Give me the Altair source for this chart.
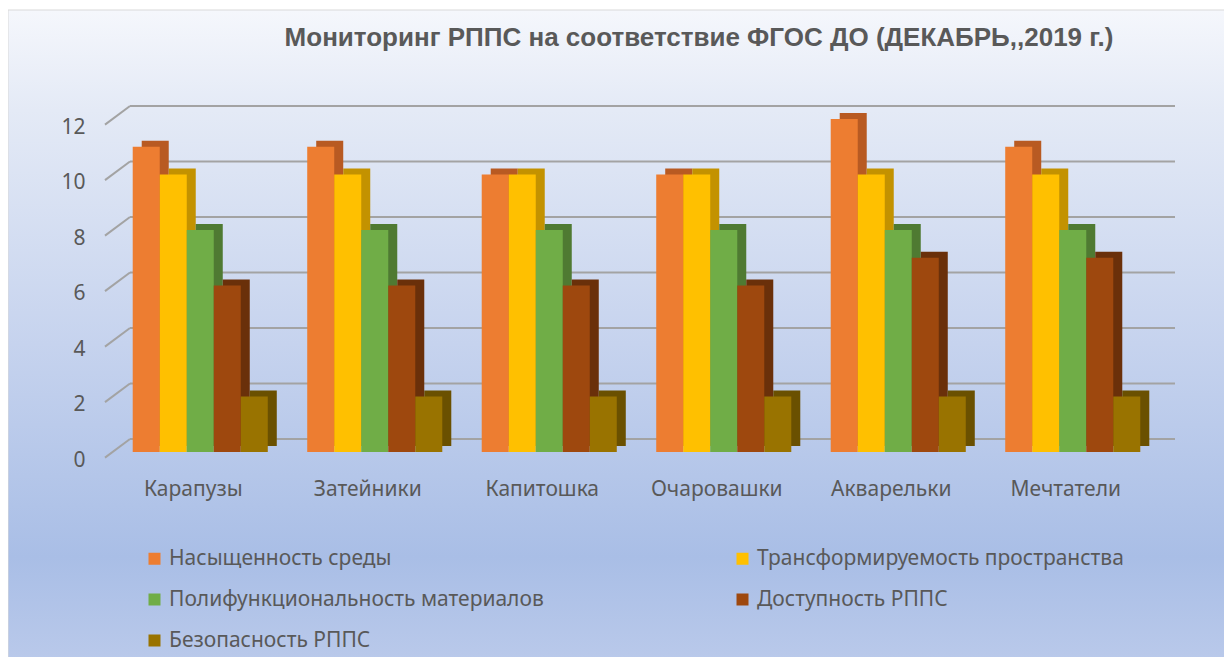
import altair as alt
import pandas as pd

groups = ["Карапузы", "Затейники", "Капитошка", "Очаровашки", "Акварельки", "Мечтатели"]
series = [
    "Насыщенность среды",
    "Трансформируемость пространства",
    "Полифункциональность материалов",
    "Доступность РППС",
    "Безопасность РППС",
]
nasysh = [11, 11, 10, 10, 12, 11]
transf = [10, 10, 10, 10, 10, 10]
polif = [8, 8, 8, 8, 8, 8]
dostup = [6, 6, 6, 6, 7, 7]
bezop = [2, 2, 2, 2, 2, 2]
ticks = [0, 2, 4, 6, 8, 10, 12]
title_text = "Мониторинг РППС на соответствие ФГОС ДО (ДЕКАБРЬ,,2019 г.)"

front_colors = ["#ED7D31", "#FFC000", "#70AD47", "#9E480E", "#997300"]
side_colors = ["#B85A22", "#C39200", "#4F7A32", "#6A300A", "#6A5000"]

rows = []
for s, vals in zip(series, [nasysh, transf, polif, dostup, bezop]):
    for g, v in zip(groups, vals):
        rows.append({"group": g, "series": s, "value": v})
df = pd.DataFrame(rows)
tick_df = pd.DataFrame({"v": ticks})

# legend is filled column by column: order entries so they read row by row
legend_order = [series[0], series[2], series[4], series[1], series[3]]
legend_colors = [front_colors[series.index(s)] for s in legend_order]

W, H = 1047, 333
PL, PT, PR, PB = 105, 111, 64, 205
FONT = "Noto Sans"
TXT = "#595959"

yscale = alt.Scale(domain=[0, 12], nice=False, zero=True)
xscale_front = alt.Scale(domain=groups, paddingInner=0.226, paddingOuter=0.113, range=[0, W])
xscale_side = alt.Scale(domain=groups, paddingInner=0.226, paddingOuter=0.113, range=[9, W + 9])

bg = alt.Chart(alt.Data(values=[{}])).mark_rect(
    fill=alt.Gradient(
        gradient="linear",
        stops=[
            alt.GradientStop(color="#F5F7FC", offset=0.0),
            alt.GradientStop(color="#E4EAF6", offset=0.15),
            alt.GradientStop(color="#C6D3EE", offset=0.5),
            alt.GradientStop(color="#A9BEE6", offset=0.82),
            alt.GradientStop(color="#BCCBEB", offset=1.0),
        ],
        x1=0, x2=0, y1=0, y2=1,
    ),
    stroke="#D9D9D9",
    strokeWidth=1,
).encode(
    x=alt.value(-PL),
    x2=alt.value(W + PR + 20),
    y=alt.value(-PT + 2),
    y2=alt.value(H + PB + 20),
)

title = alt.Chart(alt.Data(values=[{"t": title_text}])).mark_text(
    font="Liberation Sans", fontWeight="bold", fontSize=26, color=TXT,
    align="center", baseline="alphabetic",
).encode(
    text="t:N",
    x=alt.value(586),
    y=alt.value(-73),
)

hgrid = alt.Chart(tick_df).mark_rule(
    color="#A3A3A3", strokeWidth=2, yOffset=-13
).encode(
    y=alt.Y("v:Q", scale=yscale, axis=None),
    x=alt.value(17),
    x2=alt.value(W + 15),
)

diag = alt.Chart(tick_df).mark_rule(
    color="#A3A3A3", strokeWidth=2, yOffset=5.6, y2Offset=-13
).encode(
    y=alt.Y("v:Q", scale=yscale, axis=None),
    y2="v:Q",
    x=alt.value(-8),
    x2=alt.value(17),
)

side = alt.Chart(df).mark_bar(yOffset=-6, y2Offset=-6).encode(
    x=alt.X("group:N", sort=groups, scale=xscale_side, axis=None),
    xOffset=alt.XOffset("series:N", sort=series),
    y=alt.Y("value:Q", scale=yscale, axis=None),
    color=alt.Color("series:N", sort=series,
                    scale=alt.Scale(domain=series, range=side_colors), legend=None),
)

front = alt.Chart(df).mark_bar().encode(
    x=alt.X(
        "group:N", sort=groups, scale=xscale_front, title=None,
        axis=alt.Axis(
            labelFont=FONT, labelFontSize=21, labelColor=TXT, labelAngle=0,
            ticks=False, tickSize=0, domain=False, grid=False,
            labelPadding=26, labelOffset=-7, zindex=2,
        ),
    ),
    xOffset=alt.XOffset("series:N", sort=series),
    y=alt.Y(
        "value:Q", scale=yscale, title=None,
        axis=alt.Axis(
            values=ticks, labelFont=FONT, labelFontSize=21, labelColor=TXT,
            ticks=False, tickSize=0, domain=False, grid=False,
            labelPadding=28, labelOffset=8, zindex=2,
        ),
    ),
    color=alt.Color(
        "series:N",
        scale=alt.Scale(domain=legend_order, range=legend_colors),
        legend=alt.Legend(
            title=None, orient="none", legendX=31, legendY=429, columns=2,
            columnPadding=188, rowPadding=19, symbolType="square", symbolSize=144,
            symbolStrokeWidth=0, labelFont=FONT, labelFontSize=21, labelColor=TXT,
            labelOffset=4, labelLimit=800, zindex=2,
        ),
    ),
)

chart = alt.layer(bg, title, hgrid, diag, side, front).resolve_scale(
    color="independent", x="independent", xOffset="independent"
).resolve_axis(
    y="independent"
).properties(
    width=W,
    height=H,
    padding={"left": PL, "top": PT, "right": PR, "bottom": PB},
    autosize=alt.AutoSizeParams(type="none"),
).configure_view(stroke=None).configure(background="white")

chart.save("out.html", embed_options={"renderer": "svg", "actions": False})
